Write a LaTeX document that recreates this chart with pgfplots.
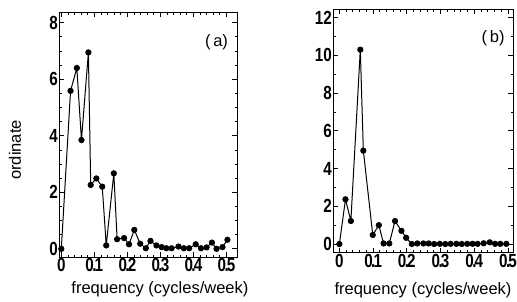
\documentclass[border=0pt]{standalone}
\usepackage{fontspec}
\setmainfont{Liberation Sans}
\newfontfamily\tickfont{Liberation Sans}[FakeStretch=0.8]
\usepackage{pgfplots}
\pgfplotsset{compat=1.18}
\newcommand{\dd}[1]{0\kern-0.08em.\kern-0.1em#1}
\begin{document}
\begin{tikzpicture}
\useasboundingbox (0,0) rectangle (517pt,301pt);
\pgfplotsset{
  myax/.style={
    scale only axis, anchor=south west,
    /pgf/number format/assume math mode=true,
    axis line style={line width=1pt},
    tick style={line width=0.8pt, black},
    major tick length=5pt, minor tick length=2.5pt,
    tick align=inside,
    xtick={0,0.1,0.2,0.3,0.4,0.5},
    xticklabels={0,\dd1,\dd2,\dd3,\dd4,\dd5},
    minor x tick num=4,
    tick label style={font=\fontsize{19}{19}\tickfont\bfseries},
    xticklabel style={inner sep=1pt},
    yticklabel style={inner sep=1pt},
    label style={font=\fontsize{16.5}{16.5}\selectfont},
  },
  myplot/.style={black, line width=1pt, mark=*, mark size=2.6pt, mark options={solid, fill=black}},
}
\begin{axis}[myax,
  at={(59pt,44pt)}, width=178pt, height=245pt,
  xmin=-0.007, xmax=0.532, ymin=-0.29, ymax=8.38,
  ytick={0,2,4,6,8}, minor y tick num=3,
  xlabel={frequency (cycles/week)},
  xlabel style={at={(axis description cs:0.567,-0.147)}, anchor=base},
  ylabel={ordinate},
  ylabel style={at={(axis description cs:-0.247,0.437)}, anchor=center},
]
\addplot[myplot] coordinates {
(0,0) (0.028,5.59) (0.047,6.40) (0.061,3.85) (0.082,6.95) (0.089,2.26)
(0.106,2.49) (0.124,2.2) (0.136,0.12) (0.159,2.67) (0.169,0.34) (0.19,0.38)
(0.205,0.16) (0.221,0.67) (0.239,0.18) (0.256,0.02) (0.27,0.28) (0.288,0.12)
(0.304,0.06) (0.318,0.02) (0.334,0.02) (0.355,0.08) (0.371,0.02) (0.387,0.02)
(0.407,0.16) (0.423,0.02) (0.44,0.05) (0.456,0.22) (0.47,0) (0.488,0.06) (0.503,0.32)
};
\node[font=\fontsize{16.5}{16.5}\selectfont] at (axis cs:0.47,7.3) {(\,a)};
\end{axis}
\begin{axis}[myax,
  at={(333pt,48.3pt)}, width=180pt, height=243.4pt,
  xmin=-0.019, xmax=0.515, ymin=-0.46, ymax=12.44,
  ytick={0,2,4,6,8,10,12}, minor y tick num=1,
  xlabel={frequency (cycles/week)},
  xlabel style={at={(axis description cs:0.5,-0.1725)}, anchor=base},
]
\addplot[myplot] coordinates {
(0,0) (0.018,2.37) (0.034,1.22) (0.062,10.3) (0.071,4.95) (0.099,0.48)
(0.117,1.0) (0.131,0.03) (0.148,0.03) (0.165,1.22) (0.184,0.7) (0.198,0.33)
(0.215,0) (0.231,0.03) (0.249,0.03) (0.265,0.03) (0.281,0) (0.298,0.01)
(0.314,0) (0.33,0.01) (0.347,0.01) (0.363,0) (0.379,0.01) (0.395,0.01)
(0.41,0.01) (0.428,0.04) (0.446,0.09) (0.462,0.01) (0.477,0.01) (0.495,0.01)
};
\node[font=\fontsize{16.5}{16.5}\selectfont] at (axis cs:0.456,10.9) {(\,b)};
\end{axis}
\end{tikzpicture}
\end{document}
